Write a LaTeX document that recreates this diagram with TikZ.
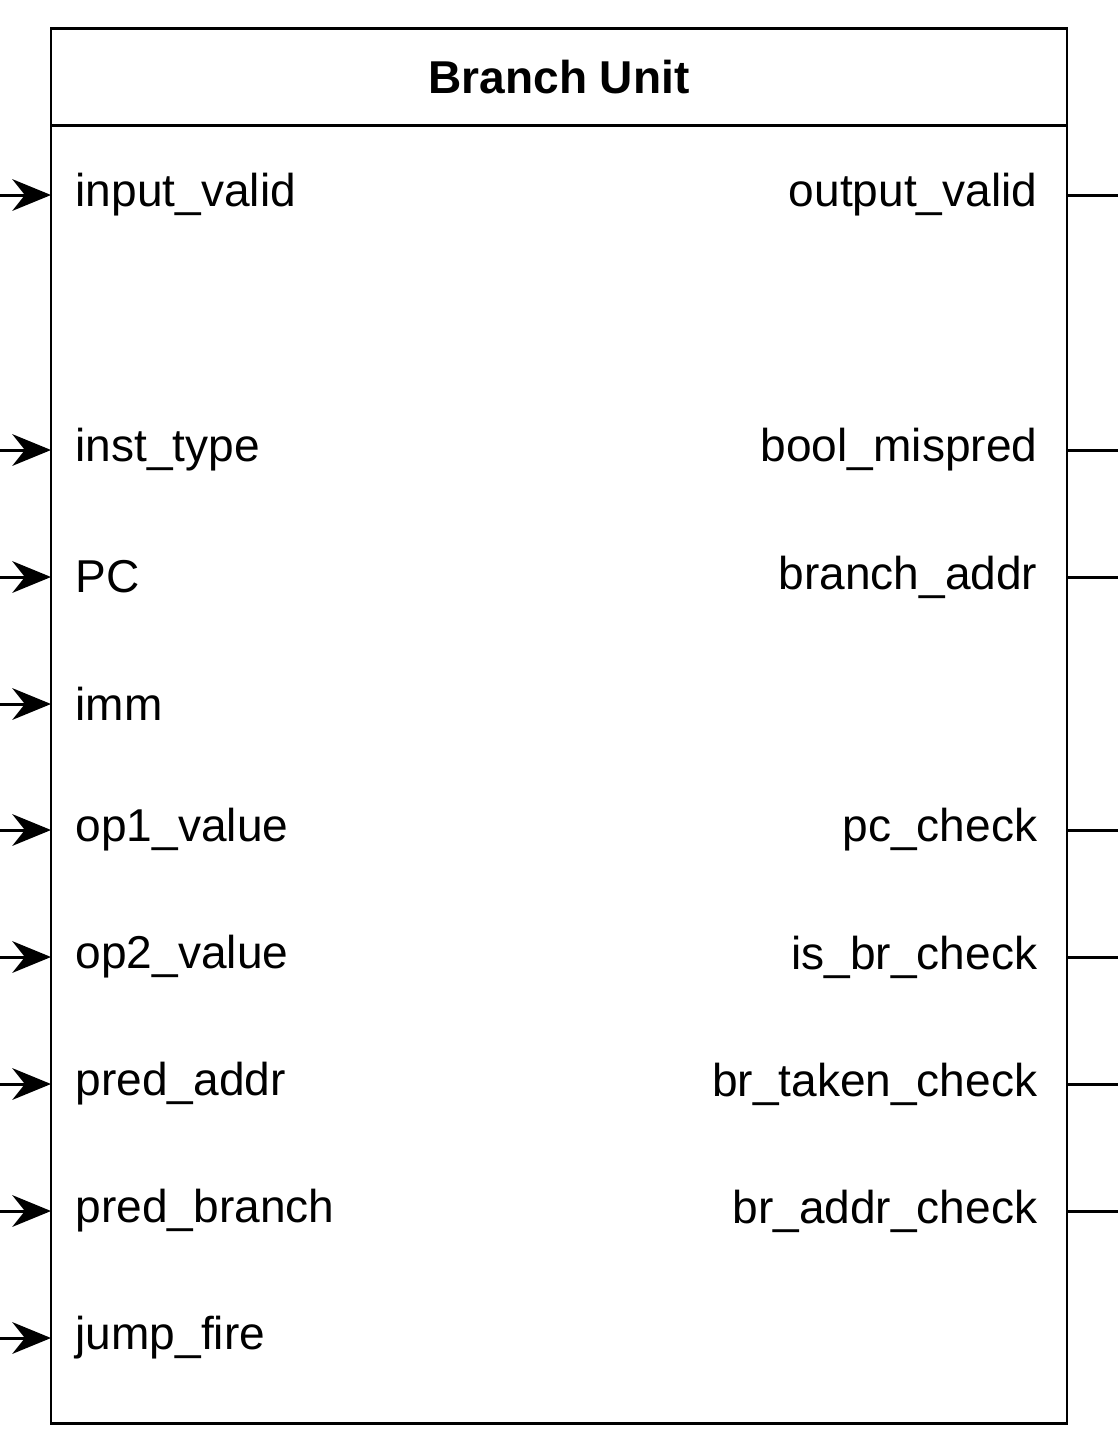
\documentclass[tikz,border=0pt]{standalone}
\usepackage{fontspec}
\setmainfont{Liberation Sans}
\usetikzlibrary{arrows.meta}
\begin{document}
\begin{tikzpicture}[
                 x = 0.01cm, y = -0.01cm,
                 > = {Stealth[length=11pt,width=9pt]},
         frame/.style = {draw=black, line width=0.85pt},
          port/.style = {inner sep=0pt, font=\fontsize{13.1}{15}\selectfont},
          wire/.style = {draw=black, line width=0.85pt},
            ]
    \useasboundingbox (0,0) rectangle (1118,1438);
    \draw[frame] (51,28) rectangle (1067,1423);
    \draw[frame] (51,125) -- (1067,125);
    \node[port, font=\fontsize{13.1}{15}\selectfont\bfseries] (title) at (559,77) {Branch Unit};

    % inputs
    \foreach \name/\y [count=\i] in {input\_valid/195, inst\_type/450, PC/577, imm/704,
            op1\_value/830, op2\_value/957, pred\_addr/1084, pred\_branch/1211, jump\_fire/1338}{%
        \node[port, anchor=west] (in\i) at (75,\y) {\name};
        \coordinate (src\i) at (0,\y);
        \coordinate (pin\i) at (51,\y);
        \draw[wire,->] (src\i) -- (pin\i);
    }

    % outputs
    \foreach \name/\y [count=\i] in {output\_valid/195, bool\_mispred/450, branch\_addr/577,
            pc\_check/830, is\_br\_check/957, br\_taken\_check/1084, br\_addr\_check/1211}{%
        \node[port, anchor=east] (out\i) at (1038,\y) {\name};
        \coordinate (pout\i) at (1067,\y);
        \coordinate (dst\i) at (1118,\y);
        \draw[wire] (pout\i) -- (dst\i);
    }
\end{tikzpicture}
\end{document}
